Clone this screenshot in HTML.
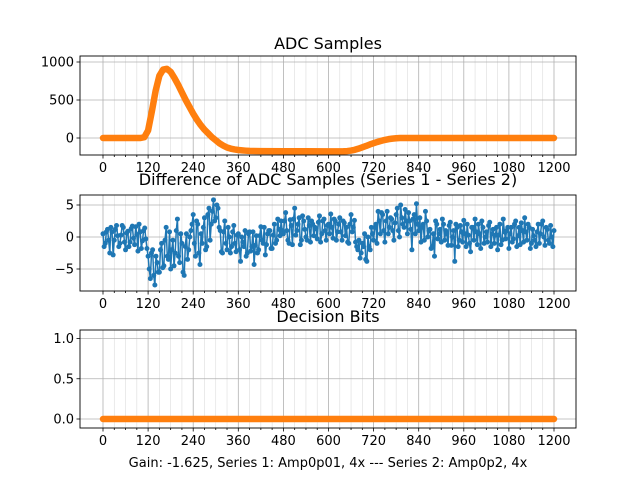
<!DOCTYPE html>
<html><head><meta charset="utf-8"><style>
body{margin:0;background:#fff}
svg{display:block;font-family:"DejaVu Sans","Liberation Sans",sans-serif}
</style></head><body>
<svg id="fig" width="640" height="480" viewBox="0 0 640 480" xmlns="http://www.w3.org/2000/svg"></svg>
<script>
const xTicks=[0,120,240,360,480,600,720,840,960,1080,1200];
const adcX=[0,10,20,30,40,50,60,70,80,90,100,110,120,130,140,150,160,170,180,190,200,210,220,230,240,250,260,270,280,290,300,310,320,330,340,350,360,370,380,390,420,480,540,600,640,650,660,670,680,690,700,710,720,730,740,750,760,770,780,790,840,900,960,1020,1080,1140,1200];
const adcSeries1=[0,2,-1,3,0,1,-2,2,0,1,2,12,105,355,625,825,902,912,872,792,702,602,502,412,322,242,172,112,62,12,-28,-68,-98,-123,-138,-148,-156,-161,-165,-168,-171,-173,-174,-175,-174,-171,-164,-154,-139,-121,-104,-84,-67,-51,-37,-24,-14,-7,-2,1,2,1,2,1,2,1,2];
const adcSeries2=[0,0,0,0,0,0,0,0,0,0,0,10,100,350,620,820,900,910,870,790,700,600,500,410,320,240,170,110,60,10,-30,-70,-100,-125,-140,-150,-158,-163,-167,-170,-172,-174,-175,-176,-175,-172,-165,-155,-140,-122,-105,-85,-68,-52,-38,-25,-15,-8,-3,0,0,0,0,0,0,0,0];
const diffStep=3;
// samples at x = 0,6,12,...,1200
const diffEven=[0.5,-1,1.2,-2.5,0.8,-0.5,1.8,-1.5,0.3,1.5,-2,0.9,-0.8,1.7,-1.2,0.4,2,-1.8,1,-0.3,
-3,-6.5,-2,-7.5,-4,-5.5,-1,-4.5,1.5,-3.5,-5,-0.5,-2.5,2.8,-4,-1,-6,0.5,-2,1,
3.5,-3,2,-4.3,-1,3,-1.5,4.5,2,5.8,3,4.5,1,-2.5,2.5,-2,0,-1.5,1.8,-2.3,
0.5,-3.8,-0.8,1,-2.5,0.8,-1.5,-4.3,0.2,-2,1.6,-1,-2.8,0.5,1,-1.8,2,-0.5,1.2,2.5,
0.5,3.8,-0.5,2.7,-1.2,4.5,1,3,-0.5,2.5,0,3,-0.8,2,1.5,-0.3,3.3,0.5,2.8,-0.5,
2,3.6,-0.2,2.5,0.8,3,-0.5,2.2,1.5,-1,3.5,1.5,-0.8,-2,-3.3,-1,0.5,-3.8,-1.5,1.5,
-0.5,2,4,0.5,3.5,-0.8,4,1.5,2.8,-0.5,3.5,1,5,2,4.3,0.5,2.5,-2,3.5,5.2,
1,-0.8,2,4,0,1.2,-1.5,-3,2,0.5,-0.8,2,1,-1.3,2.3,0,-3.8,1.5,-0.5,0.8,
2.6,-1.5,0.3,-2.3,1.5,2.8,-1.2,0.5,2.5,-1,0.8,1.8,-1.5,1.2,0.3,-2,2,-0.5,0.8,1,
-1.8,1.5,-0.3,2.5,0.2,-1.2,1,3,-0.5,1.5,-1,0.2,-1.5,2,0.5,2.5,-1.3,1.2,-1,0,
1];
// samples at x = 3,9,15,...,1197
const diffOdd=[-1.5,0.8,-0.5,1.5,-2.8,1.2,0.2,-1,1.8,-0.8,0.6,-1.5,1.3,-0.2,1.6,-2.2,0.8,-0.6,1.4,-1.8,
-5,-2.5,-6,-3,-5.5,-2,-4.8,-0.5,-3,0.8,-2,-4.5,1,-3,0.5,-5.5,-1.5,-3.5,0,2,
-1,2.5,-2.5,0.5,1.5,-2,3.5,-0.5,4,2.5,5,1.5,-2.3,0.8,-1,1.5,-2.5,0.8,-1,0.3,
-2,0,-1.5,-3,0.5,-2.2,0.8,-1.3,-2.5,0.2,-0.5,1.5,-1.2,1,-1.8,0.3,-1,2.8,0.2,1,
2.5,1,-1,1.8,2.8,0.3,2,-1.2,3.3,1.2,-0.5,1.8,2.5,0.2,1.3,2.3,-0.8,2.5,1,1.8,
0.5,1.5,2.8,-0.5,2,0.8,2.5,0.2,-0.8,2,0.8,2.6,-1.5,-0.5,-2.5,-1.5,-3.5,0,-2,0.5,
1.5,-1,2.5,3.8,1,2.5,0.5,3,1,2.2,4.5,0,3,1.5,2.5,3.8,1.2,2.8,0.5,2,
3,1.5,-0.5,2.5,1,-1.8,0.5,2.5,-0.3,1.2,2.8,-0.5,0.5,1.8,-1.3,1,2,-1.5,1.8,-0.8,
0.5,2,-1,1.5,-0.5,0.8,2,-1.8,1.5,0,-0.8,2.3,0.5,-1,1.5,0.3,-1.2,2.8,-0.3,1.5,
0.5,-0.8,2,-1.5,1.5,2.2,-0.8,0.8,2,-1.8,1.2,-0.5,0.8,-1,2,0,1.5,-0.5,1.8,-1.5];
const bitsX=[0,1200];
const bitsValues=[0,0];
const topYTicks=[0,500,1000],topYLabels=["0","500","1000"];
const midYTicks=[-5,0,5],midYLabels=["−5","0","5"];
const botYTicks=[0,0.5,1],botYLabels=["0.0","0.5","1.0"];

const NS="http://www.w3.org/2000/svg";
const svg=document.getElementById('fig');
function mk(tag,attrs,parent){const e=document.createElementNS(NS,tag);for(const k in attrs)e.setAttribute(k,attrs[k]);(parent||svg).appendChild(e);return e;}
const X0=80,X1=576;
function xs(v){return 103+v*(554-103)/1200;}
function makeAxes(name,top,bot,ymap,yt,yl,title,titleY){
  const g=mk('g',{});
  
  
  for(let v=0;v<=1200;v+=30){const x=xs(v);const major=v%120===0;
    mk('line',{x1:x,x2:x,y1:top,y2:bot,stroke:major?'#b0b0b0':'#dcdcdc','stroke-width':major?0.8:0.6},g);
    mk('line',{x1:x,x2:x,y1:bot,y2:bot+(major?3.5:2),stroke:'#000','stroke-width':0.8},g);}
  yt.forEach((v,i)=>{const y=ymap(v);
    mk('line',{x1:X0,x2:X1,y1:y,y2:y,stroke:'#b0b0b0','stroke-width':0.8},g);
    mk('line',{x1:X0-3.5,x2:X0,y1:y,y2:y,stroke:'#000','stroke-width':0.8},g);
    const t=mk('text',{x:X0-6,y:y+4.5,'text-anchor':'end','font-size':13},g);t.textContent=yl[i];
    });
  xTicks.forEach(v=>{const t=mk('text',{x:xs(v),y:bot+17,'text-anchor':'middle','font-size':13},g);t.textContent=v;
    });
  const tt=mk('text',{x:(X0+X1)/2,y:titleY,'text-anchor':'middle','font-size':16},g);tt.textContent=title;
  
  return g;
}
function frame(g,top,bot){const r=mk('rect',{x:X0,y:top,width:X1-X0,height:bot-top,fill:'none',stroke:'#000','stroke-width':0.9},g);
  }
function series(g,xArr,yArr,ymap,color,lw,r,name){
  const pts=xArr.map((x,i)=>xs(x).toFixed(2)+','+ymap(yArr[i]).toFixed(2)).join(' ');
  const s=mk('g',{},g);
  
  
  mk('polyline',{points:pts,fill:'none',stroke:color,'stroke-width':lw,'stroke-linejoin':'round','stroke-linecap':'round'},s);
  if(r>0) xArr.forEach((x,i)=>mk('circle',{cx:xs(x),cy:ymap(yArr[i]),r:r,fill:color},s));
}
// top
const yTop=v=>138-v*(138-62)/1000;
let g=makeAxes('adc-samples-plot',56,155,yTop,topYTicks,topYLabels,'ADC Samples',49);
series(g,adcX,adcSeries1,yTop,'#1f77b4',2,2.5,'adc-series-1');
series(g,adcX,adcSeries2,yTop,'#ff7f0e',6.5,0,'adc-series-2');
frame(g,56,155);
// middle
const yMid=v=>237-v*(237-205)/5;
const diffValues=[];
diffEven.forEach((v,i)=>{diffValues.push(v);if(i<diffOdd.length)diffValues.push(diffOdd[i]);});
g=makeAxes('difference-plot',195,291,yMid,midYTicks,midYLabels,'Difference of ADC Samples (Series 1 - Series 2)',185);
series(g,diffValues.map((_,i)=>i*diffStep),diffValues,yMid,'#1f77b4',1.5,2.5,'difference-series');
frame(g,195,291);
// bottom
const yBot=v=>419-v*(419-338.5);
g=makeAxes('decision-bits-plot',330,428,yBot,botYTicks,botYLabels,'Decision Bits',322);
series(g,bitsX,bitsValues,yBot,'#1f77b4',5,0,'bits-series-1');
series(g,bitsX,bitsValues,yBot,'#ff7f0e',6.5,0,'bits-series-2');
frame(g,330,428);
const xl=mk('text',{x:328,y:467,'text-anchor':'middle','font-size':13});
xl.textContent='Gain: -1.625, Series 1: Amp0p01, 4x --- Series 2: Amp0p2, 4x';

</script>
</body></html>
